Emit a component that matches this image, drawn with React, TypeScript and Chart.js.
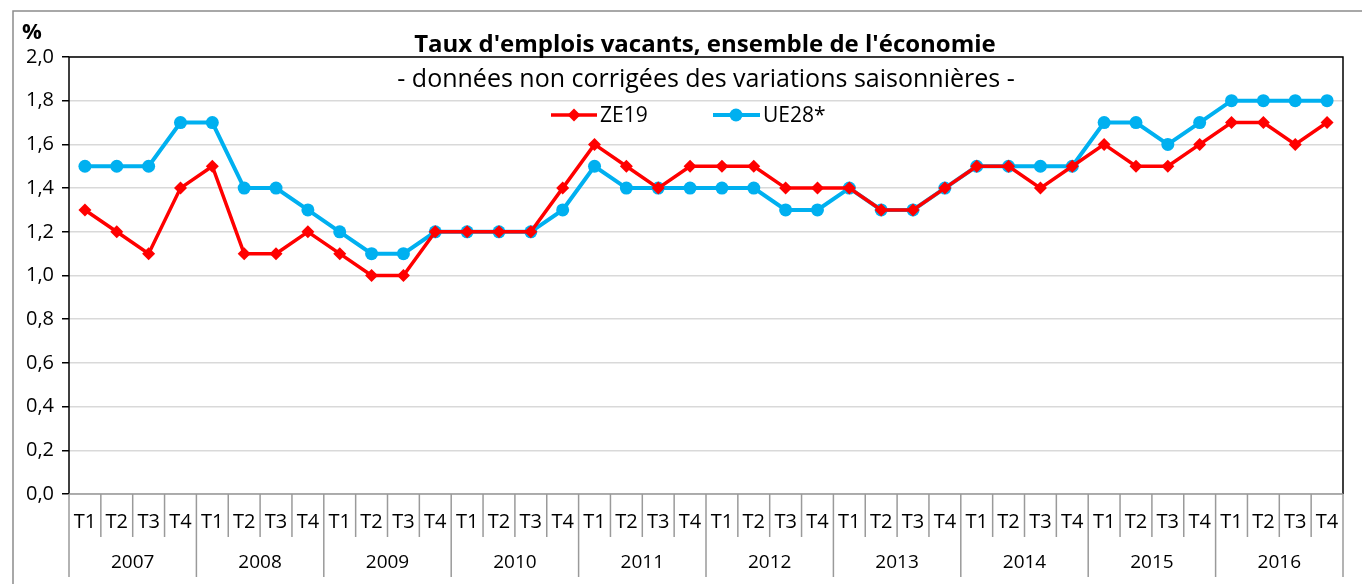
import React, { useEffect, useRef } from "react";
import { Chart, registerables } from "chart.js";

Chart.register(...registerables);

const years = ["2007", "2008", "2009", "2010", "2011", "2012", "2013", "2014", "2015", "2016"];
const quarters = ["T1", "T2", "T3", "T4"];
const categories: string[] = years.flatMap(() => quarters);

const ze19 = [
  1.3, 1.2, 1.1, 1.4,
  1.5, 1.1, 1.1, 1.2,
  1.1, 1.0, 1.0, 1.2,
  1.2, 1.2, 1.2, 1.4,
  1.6, 1.5, 1.4, 1.5,
  1.5, 1.5, 1.4, 1.4,
  1.4, 1.3, 1.3, 1.4,
  1.5, 1.5, 1.4, 1.5,
  1.6, 1.5, 1.5, 1.6,
  1.7, 1.7, 1.6, 1.7,
];
const ue28 = [
  1.5, 1.5, 1.5, 1.7,
  1.7, 1.4, 1.4, 1.3,
  1.2, 1.1, 1.1, 1.2,
  1.2, 1.2, 1.2, 1.3,
  1.5, 1.4, 1.4, 1.4,
  1.4, 1.4, 1.3, 1.3,
  1.4, 1.3, 1.3, 1.4,
  1.5, 1.5, 1.5, 1.5,
  1.7, 1.7, 1.6, 1.7,
  1.8, 1.8, 1.8, 1.8,
];

const TITLE = "Taux d'emplois vacants, ensemble de l'économie";
const SUBTITLE = "- données non corrigées des variations saisonnières -";
const RED = "#FF0000";
const BLUE = "#00B0F0";
const FONT = "'Open Sans', 'Liberation Sans', sans-serif";

const decorPlugin = {
  id: "decor",
  afterDraw(chart: any) {
    const { ctx, chartArea } = chart;
    const { left, right, top, bottom } = chartArea;
    const xs = chart.scales.x;
    const n = categories.length;
    const w = (right - left) / n;
    ctx.save();

    // plot frame: left, top, right in black
    ctx.strokeStyle = "#000";
    ctx.lineWidth = 1.5;
    ctx.beginPath();
    ctx.moveTo(left, bottom);
    ctx.lineTo(left, top);
    ctx.lineTo(right, top);
    ctx.lineTo(right, bottom);
    ctx.stroke();

    // category separators
    ctx.strokeStyle = "#9a9a9a";
    ctx.lineWidth = 1.5;
    for (let i = 0; i <= n; i++) {
      const x = left + i * w;
      const len = i % 4 === 0 ? 83 : 43;
      ctx.beginPath();
      ctx.moveTo(x, bottom);
      ctx.lineTo(x, bottom + len);
      ctx.stroke();
    }
    // bottom axis line
    ctx.beginPath();
    ctx.moveTo(left, bottom);
    ctx.lineTo(right, bottom);
    ctx.stroke();

    // year labels
    ctx.fillStyle = "#000";
    ctx.font = `19px ${FONT}`;
    ctx.textAlign = "center";
    ctx.textBaseline = "middle";
    years.forEach((y, k) => {
      const x0 = xs.getPixelForValue(k * 4);
      const x3 = xs.getPixelForValue(k * 4 + 3);
      ctx.fillText(y, (x0 + x3) / 2, bottom + 69);
    });

    // title & subtitle
    ctx.font = `bold 24px ${FONT}`;
    ctx.fillText(TITLE, 705, 45);
    ctx.font = `25px ${FONT}`;
    ctx.fillText(SUBTITLE, 706, 80);

    // % label
    ctx.textAlign = "left";
    ctx.font = `bold 22px ${FONT}`;
    ctx.fillText("%", 22, 33);

    // legend
    const ly = 115;
    ctx.lineWidth = 3.5;
    ctx.strokeStyle = RED;
    ctx.beginPath();
    ctx.moveTo(551, ly);
    ctx.lineTo(597, ly);
    ctx.stroke();
    ctx.fillStyle = RED;
    ctx.beginPath();
    ctx.moveTo(574, ly - 6.5);
    ctx.lineTo(580.5, ly);
    ctx.lineTo(574, ly + 6.5);
    ctx.lineTo(567.5, ly);
    ctx.closePath();
    ctx.fill();
    ctx.strokeStyle = BLUE;
    ctx.lineWidth = 4;
    ctx.beginPath();
    ctx.moveTo(713, ly);
    ctx.lineTo(760, ly);
    ctx.stroke();
    ctx.fillStyle = BLUE;
    ctx.beginPath();
    ctx.arc(736, ly, 6.5, 0, Math.PI * 2);
    ctx.fill();
    ctx.fillStyle = "#000";
    ctx.font = `21px ${FONT}`;
    ctx.textAlign = "left";
    ctx.fillText("ZE19", 600, ly + 1);
    ctx.fillText("UE28*", 763, ly + 1);

    // outer frame
    ctx.strokeStyle = "#8c8c8c";
    ctx.lineWidth = 1.5;
    ctx.strokeRect(13, 11, 1362, 600);

    ctx.restore();
  },
};

export default function App() {
  const ref = useRef<HTMLCanvasElement>(null);
  useEffect(() => {
    if (!ref.current) return;
    const chart = new Chart(ref.current, {
      type: "line",
      data: {
        labels: categories,
        datasets: [
          {
            label: "ZE19",
            data: ze19,
            borderColor: RED,
            backgroundColor: RED,
            borderWidth: 3.5,
            pointStyle: "rectRot",
            pointRadius: 6.5,
            pointBorderWidth: 0,
            tension: 0,
          },
          {
            label: "UE28*",
            data: ue28,
            borderColor: BLUE,
            backgroundColor: BLUE,
            borderWidth: 4,
            pointStyle: "circle",
            pointRadius: 6.5,
            pointBorderWidth: 0,
            tension: 0,
          },
        ],
      },
      options: {
        animation: false,
        responsive: true,
        maintainAspectRatio: false,
        layout: { padding: { top: 57, right: 19, left: 0, bottom: 0 } },
        plugins: {
          legend: { display: false },
          title: { display: false },
          tooltip: { enabled: false },
        },
        scales: {
          x: {
            type: "category",
            offset: true,
            grid: { display: false, drawTicks: false },
            border: { display: false },
            ticks: {
              font: { family: FONT, size: 20 },
              color: "#000",
              padding: 16,
              maxRotation: 0,
              autoSkip: false,
            },
            afterFit: (s: any) => {
              s.height = 90;
            },
          },
          y: {
            min: 0,
            max: 2,
            ticks: {
              stepSize: 0.2,
              font: { family: FONT, size: 20 },
              color: "#000",
              padding: 8,
              callback: (v: any) => Number(v).toFixed(1).replace(".", ","),
            },
            grid: {
              color: "#d9d9d9",
              lineWidth: 1.5,
              tickColor: "#000",
              tickLength: 7,
            },
            border: { display: false },
            afterFit: (s: any) => {
              s.width = 69;
            },
          },
        },
      },
      plugins: [decorPlugin],
    });
    return () => chart.destroy();
  }, []);
  return (
    <div style={{ position: "absolute", left: 0, top: 0, width: 1362, height: 584 }}>
      <canvas ref={ref} />
    </div>
  );
}
